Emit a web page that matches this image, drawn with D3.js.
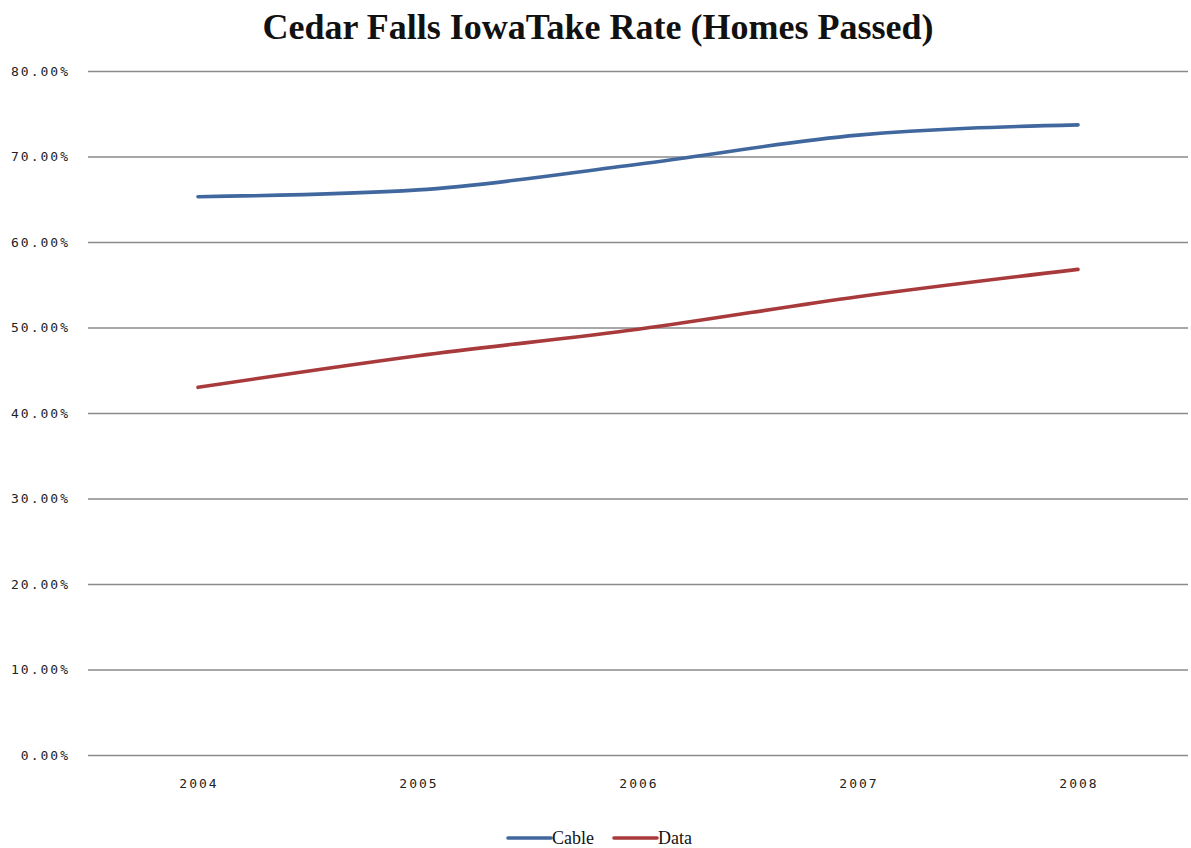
<!DOCTYPE html>
<html>
<head>
<meta charset="utf-8">
<script src="https://cdn.jsdelivr.net/npm/d3@7"></script>
<style>
  html, body { margin: 0; padding: 0; background: #fff; }
  svg { display: block; }
</style>
</head>
<body>
<script>
// Take-rate series, share of homes passed
const years = ["2004", "2005", "2006", "2007", "2008"];
const cable = [0.653, 0.661, 0.691, 0.725, 0.737];
const dataSvc = [0.430, 0.467, 0.498, 0.536, 0.568];
const yTicks = [0, 0.1, 0.2, 0.3, 0.4, 0.5, 0.6, 0.7, 0.8];
const seriesNames = ["Cable", "Data"];
const seriesColors = ["#41679f", "#a93a3b"];

const W = 1191, H = 848;
const plotLeft = 88, plotRight = 1188, plotTop = 71, plotBottom = 755;

const svg = d3.select("body").append("svg").attr("width", W).attr("height", H);

const x = d3.scaleBand().domain(years).range([plotLeft, plotRight]);
const y = d3.scaleLinear().domain([0, 0.8]).range([plotBottom, plotTop]);

// title
svg.append("text")
  .attr("x", 598).attr("y", 39)
  .attr("text-anchor", "middle")
  .style("font-family", "'Liberation Serif', serif")
  .style("font-weight", "bold")
  .style("font-size", "36px")
  .attr("fill", "#111")
  .text("Cedar Falls IowaTake Rate (Homes Passed)");

const tickFont = sel => sel
  .attr("fill", "#222")
  .style("font-family", "'DejaVu Sans Mono', monospace")
  .style("font-size", "13px")
  .style("letter-spacing", "2px");

// horizontal gridlines + y labels
const yAxis = d3.axisLeft(y).tickValues(yTicks)
  .tickSize(-(plotRight - plotLeft)).tickPadding(18)
  .tickFormat(d => d3.format(".2f")(d * 100) + "%");
const gy = svg.append("g").attr("transform", `translate(${plotLeft},0)`).call(yAxis);
gy.select(".domain").remove();
gy.selectAll(".tick line").attr("stroke", "#8a8a8a").attr("stroke-width", 1.6);
gy.selectAll(".tick text").call(tickFont);

// x labels
const xAxis = d3.axisBottom(x).tickSize(0).tickPadding(24);
const gx = svg.append("g").attr("transform", `translate(0,${plotBottom})`).call(xAxis);
gx.select(".domain").remove();
gx.selectAll(".tick text").call(tickFont).attr("dx", "1px");

// series lines
const line = d3.line()
  .x((d, i) => x(years[i]) + x.bandwidth() / 2)
  .y(d => y(d))
  .curve(d3.curveMonotoneX);

[cable, dataSvc].forEach((vals, k) => {
  svg.append("path")
    .datum(vals)
    .attr("d", line)
    .attr("fill", "none")
    .attr("stroke", seriesColors[k])
    .attr("stroke-width", 3.6)
    .attr("stroke-linecap", "round")
    .attr("stroke-linejoin", "round");
});

// legend
const legendItems = [
  { lx: 508, tx: 552 },
  { lx: 614, tx: 658 }
];
legendItems.forEach((p, k) => {
  svg.append("line")
    .attr("x1", p.lx).attr("x2", p.lx + 43)
    .attr("y1", 838).attr("y2", 838)
    .attr("stroke", seriesColors[k]).attr("stroke-width", 3.6)
    .attr("stroke-linecap", "round");
  svg.append("text")
    .attr("x", p.tx).attr("y", 844)
    .style("font-family", "'Liberation Serif', serif")
    .style("font-size", "18px")
    .attr("fill", "#111")
    .text(seriesNames[k]);
});
</script>
</body>
</html>
